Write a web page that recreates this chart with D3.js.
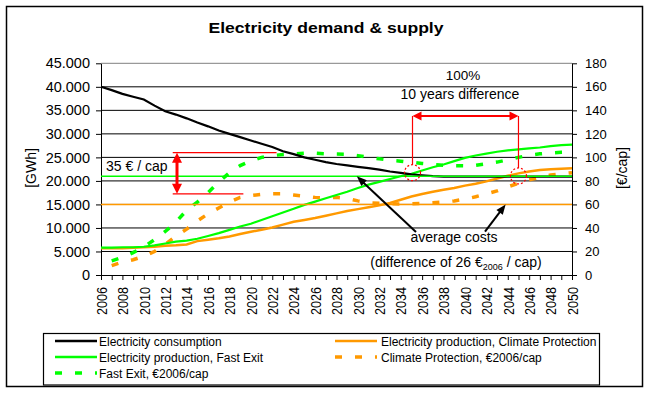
<!DOCTYPE html>
<html>
<head>
<meta charset="utf-8">
<script src="https://cdn.jsdelivr.net/npm/d3@7"></script>
<style>
  body{margin:0;background:#fff}
  svg{display:block;font-family:"Liberation Sans",Arial,sans-serif}
</style>
</head>
<body>
<svg></svg>
<script>
// data
let years = [2006,2007,2008,2009,2010,2011,2012,2013,2014,2015,2016,2017,2018,2019,2020,2021,2022,2023,2024,2025,2026,2027,2028,
             2029,2030,2031,2032,2033,2034,2035,2036,2037,2038,2039,2040,2041,2042,2043,2044,2045,2046,2047,2048,2049,2050];
// GWh, left axis
let consumption = [40000,39300,38500,37900,37300,36000,34800,34100,33300,32400,31600,30700,30000,29300,28600,27900,27200,26300,25700,25000,
                   24500,24000,23600,23300,23000,22700,22400,22000,21700,21400,21200,21000,20900,20900,20900,20900,20900,20900,20900,20900,
                   20900,20900,20900,20900,20900];
let prodFastExit = [5800,5800,5900,5900,6000,6300,6700,7100,7300,7700,8300,8900,9600,10300,10900,11700,12500,13300,14100,14900,
                    15600,16300,17000,17700,18500,19200,19800,20400,21000,21500,22200,22900,23500,24200,24900,25400,25800,26200,26500,26700,
                    26900,27100,27400,27600,27700];
let prodClimate = [5700,5700,5700,5800,5900,6000,6200,6300,6500,7200,7500,7800,8200,8700,9200,9600,10100,10700,11300,11700,
                   12100,12600,13100,13600,14000,14400,14800,15300,16000,16700,17200,17700,18100,18500,19000,19400,19900,20500,21100,21600,
                   22000,22300,22500,22600,22700];
// €2006 / cap, right axis
let costFastExit = [null,12,15,19,24,30,37,45,55,62,70,79,87,93,97,100,101.5,102.5,103,103.5,103.5,103,102.8,102.6,101.5,100,98.8,97.5,
                    96.8,95.8,94.8,94,93.3,93,92.8,93.3,94.5,96,98,100,101.8,103,103.8,104.3,104.5];
let costClimate = [null,8,11,13,16,20,26,33,39,46,52,57,62,66,67.5,68.5,69,69,68,67,66,65.5,66,65,63,61.5,61,60.5,60.4,60.6,
                   61,61.5,62,63,64.5,66.5,69,71.5,75,78,81,83,85,86,87];
let avgCosts = [84, 60];   // Fast Exit, Climate Protection
let gwhTicks = [0,5000,10000,15000,20000,25000,30000,35000,40000,45000];
let capTicks = [0,20,40,60,80,100,120,140,160,180];

let width = 652, height = 393,
    svg = d3.select("svg").attr("width",width).attr("height",height),
    x = d3.scaleLinear().domain([2006,2050]).range([101,572]),
    yL = d3.scaleLinear().domain([0,45000]).range([275,63.3]),
    yR = d3.scaleLinear().domain([0,180]).range([275,63.3]),
    lineL = d3.line().x((d,i)=>x(years[i])).y(d=>yL(d)),
    lineR = d3.line().defined(d=>d!=null).x((d,i)=>x(years[i])).y(d=>yR(d)),
    green = "#00ff00", orange = "#ff9900", red = "#ff0000";

svg.append("rect")
   .attr("x",6.5).attr("y",6.5).attr("width",636).attr("height",380)
   .attr("fill","#fff").attr("stroke","#000").attr("stroke-width",1.5);

svg.append("text")
   .text("Electricity demand & supply")
   .attr("x",326).attr("y",32.5)
   .attr("text-anchor","middle")
   .attr("font-size",15).attr("font-weight","bold")
   .attr("textLength",235).attr("lengthAdjust","spacingAndGlyphs");

// gridlines
svg.append("g").selectAll("line")
   .data(gwhTicks.slice(1))
   .enter().append("line")
   .attr("x1",x(2006)).attr("x2",x(2050))
   .attr("y1",d=>yL(d)).attr("y2",d=>yL(d))
   .attr("stroke",d=>d===45000 ? "#808080" : "#000")
   .attr("stroke-width",1);

// axes
let fmt = d=>d3.format(",")(d).replace(/,/g,".");
let axL = svg.append("g").attr("transform",`translate(${x(2006)},0)`)
   .call(d3.axisLeft(yL).tickValues(gwhTicks).tickFormat(fmt).tickSize(5).tickSizeOuter(0).tickPadding(6));
let axR = svg.append("g").attr("transform",`translate(${x(2050)},0)`)
   .call(d3.axisRight(yR).tickValues(capTicks).tickSize(5).tickSizeOuter(0).tickPadding(8));
let axB = svg.append("g").attr("transform",`translate(0,${yL(0)})`)
   .call(d3.axisBottom(x).tickValues(years).tickFormat(d=>d%2 ? "" : d).tickSize(5).tickSizeOuter(0));

[axL,axR,axB].forEach(a=>{
  a.attr("font-family",null).attr("font-size",null);
  a.selectAll("path,line").attr("stroke","#000");
  a.selectAll("text").attr("fill","#000");
});
axL.selectAll("text").attr("font-size",14.5);
axR.selectAll("text").attr("font-size",13);
axB.selectAll("text")
   .attr("font-size",15)
   .attr("transform","rotate(-90)")
   .attr("x",-12).attr("y",0).attr("dy",".35em")
   .attr("text-anchor","end")
   .filter(d=>d%2===0)
   .attr("textLength",28).attr("lengthAdjust","spacingAndGlyphs");

svg.append("text").text("[GWh]")
   .attr("transform","translate(31,168) rotate(-90)")
   .attr("text-anchor","middle").attr("dy",".35em").attr("font-size",14);
svg.append("text").text("[€/cap]")
   .attr("transform","translate(622,168) rotate(-90)")
   .attr("text-anchor","middle").attr("dy",".35em").attr("font-size",14);

// cost series (dashed)
[[costFastExit,green],[costClimate,orange]].forEach(([s,c])=>{
  svg.append("path").datum(s)
     .attr("d",lineR).attr("fill","none")
     .attr("stroke",c).attr("stroke-width",3.5).attr("stroke-dasharray","7,13");
});

// production + consumption
[[prodClimate,orange,2.5],[prodFastExit,green,2.2],[consumption,"#000",2.2]].forEach(([s,c,w])=>{
  svg.append("path").datum(s)
     .attr("d",lineL).attr("fill","none")
     .attr("stroke",c).attr("stroke-width",w);
});

// average cost lines
svg.append("g").selectAll("line")
   .data(avgCosts)
   .enter().append("line")
   .attr("x1",x(2006)).attr("x2",x(2050))
   .attr("y1",d=>yR(d)).attr("y2",d=>yR(d))
   .attr("stroke",(d,i)=>i ? orange : green)
   .attr("stroke-width",1.6);

// arrowhead helper: triangle with tip at (x2,y2)
function head(x1,y1,x2,y2,len,w,col){
  let a = Math.atan2(y2-y1,x2-x1),
      bx = x2-len*Math.cos(a), by = y2-len*Math.sin(a),
      px = Math.sin(a)*w/2, py = -Math.cos(a)*w/2;
  svg.append("path")
     .attr("d",`M${x2},${y2}L${bx+px},${by+py}L${bx-px},${by-py}Z`)
     .attr("fill",col);
}
function line(x1,y1,x2,y2,col,w){
  svg.append("line").attr("x1",x1).attr("y1",y1).attr("x2",x2).attr("y2",y2)
     .attr("stroke",col).attr("stroke-width",w);
}

// 35 € / cap bracket
let bx = x(2013.1), bTop = yR(104), bBot = yR(69);
line(x(2012.7),bTop,x(2022.4),bTop,red,1.2);
line(x(2012.7),bBot,x(2019.3),bBot,red,1.2);
line(bx,bTop+8,bx,bBot-8,red,3);
head(bx,bBot,bx,bTop,10,10,red);
head(bx,bTop,bx,bBot,10,10,red);
svg.append("text").text("35 € / cap")
   .attr("x",106).attr("y",171).attr("font-size",14);

// 10 years difference
let aY = yR(135.2), c1 = [x(2035.1),yR(87)], c2 = [x(2045),yR(84.2)];
line(c1[0]+8,aY,c2[0]-8,aY,red,2);
head(c2[0],aY,c1[0],aY,9,9,red);
head(c1[0],aY,c2[0],aY,9,9,red);
line(c1[0],aY,c1[0],c1[1]-8,red,1.2);
line(c2[0],aY,c2[0],c2[1]-8,red,1.2);
[c1,c2].forEach(c=>{
  svg.append("circle").attr("cx",c[0]).attr("cy",c[1]).attr("r",8)
     .attr("fill","none").attr("stroke",red).attr("stroke-width",1.2).attr("stroke-dasharray","2,2");
});
svg.append("text").text("100%")
   .attr("x",463).attr("y",80).attr("text-anchor","middle").attr("font-size",13.5);
svg.append("text").text("10 years difference")
   .attr("x",460).attr("y",99).attr("text-anchor","middle").attr("font-size",14);

// average costs arrows
line(416,232,x(2029.9)+4,yR(avgCosts[0])+4,"#000",2);
head(416,232,x(2029.9),yR(avgCosts[0]),10,8,"#000");
line(485,231.7,x(2043.8)-3,yR(avgCosts[1])+4,"#000",2);
head(485,231.7,x(2043.8),yR(avgCosts[1]),10,8,"#000");
svg.append("text").text("average costs")
   .attr("x",454).attr("y",242).attr("text-anchor","middle").attr("font-size",14);
let diff = svg.append("text")
   .attr("x",456).attr("y",267).attr("text-anchor","middle").attr("font-size",14);
diff.append("tspan").text("(difference of 26 €");
diff.append("tspan").text("2006").attr("font-size",9).attr("dy",3);
diff.append("tspan").text(" / cap)").attr("dy",-3);

// legend
let legend = [
  {label:"Electricity consumption", color:"#000", dash:null, col:0, row:0},
  {label:"Electricity production, Fast Exit", color:green, dash:null, col:0, row:1},
  {label:"Fast Exit, €2006/cap", color:green, dash:"7,13", col:0, row:2},
  {label:"Electricity production, Climate Protection", color:orange, dash:null, col:1, row:0},
  {label:"Climate Protection, €2006/cap", color:orange, dash:"7,13", col:1, row:1}
];
svg.append("rect")
   .attr("x",43.5).attr("y",333.5).attr("width",556).attr("height",51.5)
   .attr("fill","#fff").attr("stroke","#000").attr("stroke-width",1.2);
let items = svg.append("g").selectAll("g")
   .data(legend).enter().append("g")
   .attr("transform",d=>`translate(${d.col ? 335 : 55},${341+d.row*16})`);
items.append("line")
   .attr("x1",0).attr("x2",42)
   .attr("stroke",d=>d.color)
   .attr("stroke-width",d=>d.dash ? 3.5 : 2.5)
   .attr("stroke-dasharray",d=>d.dash);
items.append("text")
   .text(d=>d.label)
   .attr("x",d=>d.col ? 46 : 44).attr("y",4.5)
   .attr("font-size",12);
</script>
</body>
</html>
